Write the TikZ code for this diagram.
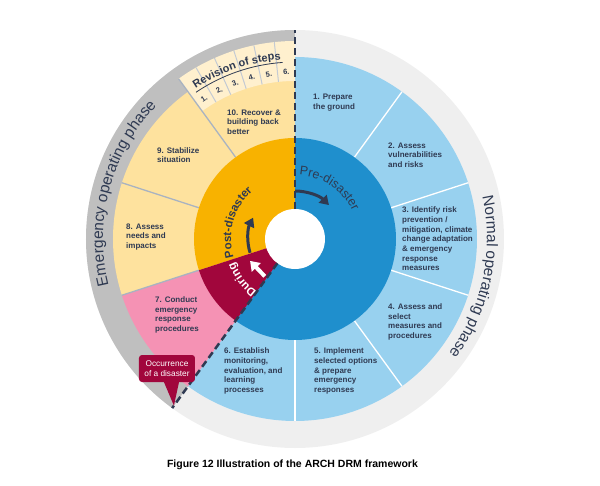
\documentclass[tikz,border=0pt]{standalone}
\usepackage{fontspec}
\setmainfont{Liberation Sans}
\usetikzlibrary{arrows.meta,decorations.text}
\definecolor{ringdark}{HTML}{BFBFBF}
\definecolor{ringlight}{HTML}{EFEFEF}
\definecolor{predis}{HTML}{1F8FCD}
\definecolor{segblue}{HTML}{98D1EF}
\definecolor{segyellow}{HTML}{FEE29E}
\definecolor{postdis}{HTML}{F8B200}
\definecolor{during}{HTML}{A1063C}
\definecolor{segpink}{HTML}{F592B4}
\definecolor{tabcream}{HTML}{FFF0CE}
\definecolor{ink}{HTML}{2F3A52}
\definecolor{divgray}{HTML}{A9B3C1}
\tikzset{
  seglabel/.style={anchor=west,align=left,inner sep=0pt,text=ink,font=\fontsize{8}{9.7}\selectfont\bfseries},
  cellnum/.style={inner sep=0pt,text=ink,font=\fontsize{7.5}{8}\selectfont\bfseries},
  phasedash/.style={ink,line width=2.5pt,dash pattern=on 7pt off 4pt},
  turnarrow/.style={ink,line width=3pt,-{Triangle[length=9pt,width=11pt]}},
  divline/.style={line width=1.3pt}
}
\begin{document}
\begin{tikzpicture}[x=1pt,y=1pt]
\useasboundingbox (-295,-246) rectangle (305,239);
\fill[ringlight] (0,0) circle[radius=209];
\fill[ringdark] (0,0) -- (90:209) arc[start angle=90,end angle=234,radius=209] -- cycle;
\foreach \a/\c in {90/segblue,54/segblue,18/segblue,-18/segblue,-54/segblue,-90/segblue,234/segpink,198/segyellow,162/segyellow,126/segyellow}
  \fill[\c] (0,0) -- (\a:182) arc[start angle=\a,end angle=\a-36,radius=182] -- cycle;
\fill[tabcream] (126:158) arc[start angle=126,end angle=90,radius=158] -- (90:198) arc[start angle=90,end angle=126,radius=198] -- cycle;
\foreach \a in {96,102,...,120}
  \draw[divgray!70,line width=1pt] (\a:158) -- (\a:198);
\foreach \a in {54,18,-18,-54,-90}
  \draw[white,divline] (\a:101) -- (\a:182);
\foreach \a in {198,162}
  \draw[divgray,divline] (\a:101) -- (\a:182);
\draw[divgray,divline] (126:101) -- (126:198);
\fill[predis] (0,0) -- (90:101) arc[start angle=90,end angle=-126,radius=101] -- cycle;
\fill[postdis] (0,0) -- (90:101) arc[start angle=90,end angle=198,radius=101] -- cycle;
\fill[during] (0,0) -- (198:101) arc[start angle=198,end angle=234,radius=101] -- cycle;
\fill[white] (0,0) circle[radius=30];
\coordinate (topin) at (90:30);
\coordinate (topout) at (90:209);
\coordinate (lowin) at (234:30);
\coordinate (lowout) at (234:209);
\draw[phasedash] (topin) -- (topout);
\draw[phasedash] (lowin) -- (lowout);
\draw[turnarrow] (90:48) arc[start angle=90,end angle=45,radius=48];
\draw[turnarrow] (197:47) arc[start angle=197,end angle=153,radius=47];
\draw[white,line width=4pt,-{Triangle[length=9pt,width=12pt]}] (231:48) -- (206:50);
\path[decorate,decoration={text along path,text align=center,text={|\fontsize{15.5}{16}\selectfont\color{ink}|Emergency operating phase}}] (205:192) arc[start angle=205,end angle=125,radius=192];
\path[decorate,decoration={text along path,text align=center,text={|\fontsize{15.5}{16}\selectfont\color{ink}|Normal operating phase}}] (22:192) arc[start angle=22,end angle=-46,radius=192];
\path[decorate,decoration={text along path,text align=center,text={|\fontsize{12.5}{13}\selectfont\color{ink}|Pre-disaster}}] (100:64) arc[start angle=100,end angle=12,radius=64];
\path[decorate,decoration={text along path,text align=center,text={|\fontsize{11.5}{12}\selectfont\bfseries\color{ink}|Post-disaster}}] (215:64) arc[start angle=215,end angle=113,radius=64];
\path[decorate,decoration={text along path,text align=center,text={|\fontsize{11.5}{12}\selectfont\bfseries\color{white}|During}}] (250:65) arc[start angle=250,end angle=185,radius=65];
\path[decorate,decoration={text along path,text align=center,text={|\fontsize{11}{12}\selectfont\bfseries\color{ink}|Revision of steps}}] (140:180) arc[start angle=140,end angle=78,radius=180];
\draw[ink,line width=0.8pt] (124:177) arc[start angle=124,end angle=94,radius=177];
\foreach \i in {1,...,6}
  \node[cellnum,rotate=39-6*\i] (cell\i) at ({129-6*\i}:167) {\i.};
\node[seglabel] (s1) at (18,136.5) {1. Prepare\\the ground};
\node[seglabel] (s2) at (93,84) {2. Assess\\vulnerabilities\\and risks};
\node[seglabel] (s3) at (107,0) {3. Identify risk\\prevention /\\mitigation, climate\\change adaptation\\\& emergency\\response\\measures};
\node[seglabel] (s4) at (93,-83) {4. Assess and\\select\\measures and\\procedures};
\node[seglabel] (s5) at (19,-132) {5. Implement\\selected options\\\& prepare\\emergency\\responses};
\node[seglabel] (s6) at (-71,-132) {6. Establish\\monitoring,\\evaluation, and\\learning\\processes};
\node[seglabel] (s7) at (-140,-76) {7. Conduct\\emergency\\response\\procedures};
\node[seglabel] (s8) at (-169,2) {8. Assess\\needs and\\impacts};
\node[seglabel] (s9) at (-138,84) {9. Stabilize\\situation};
\node[seglabel] (s10) at (-68,117) {10. Recover \&\\building back\\better};
\node[fill=during,rounded corners=3pt,text=white,align=center,minimum width=56pt,minimum height=27pt,inner sep=1pt,font=\fontsize{8.3}{9.3}\selectfont] (occ) at (-128,-129.5) {Occurrence\\of a disaster};
\coordinate (occtip) at (234:206);
\fill[during] ([xshift=-3pt]occ.south) -- (occtip) -- ([xshift=12pt]occ.south) -- cycle;
\node[font=\fontsize{10.5}{12}\selectfont\bfseries] (caption) at (-2.5,-226) {Figure 12 Illustration of the ARCH DRM framework};
\end{tikzpicture}
\end{document}
